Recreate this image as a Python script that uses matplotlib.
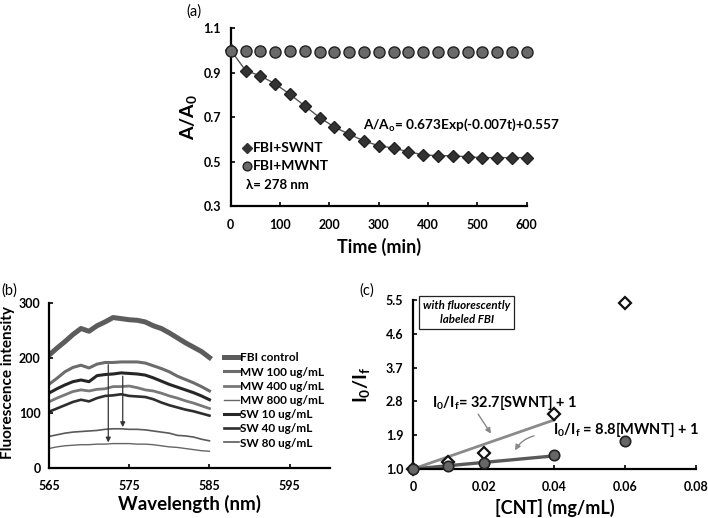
import numpy as np
import matplotlib.pyplot as plt

plt.rcParams['font.family'] = ['Lato', 'DejaVu Sans']
plt.rcParams['font.weight'] = 'bold'
plt.rcParams['mathtext.fontset'] = 'custom'
plt.rcParams['mathtext.rm'] = 'Lato:bold'
plt.rcParams['mathtext.it'] = 'Lato:bold:italic'
plt.rcParams['mathtext.bf'] = 'Lato:bold'
plt.rcParams['mathtext.default'] = 'rm'

# ---- panel (a) data
t = [0, 30, 60, 90, 120, 150, 180, 210, 240, 270, 300, 330, 360, 390, 420, 450, 480, 510, 540, 570, 600]
a_swnt = [1.0, 0.909, 0.885, 0.849, 0.802, 0.750, 0.698, 0.655, 0.623, 0.593, 0.571,
          0.561, 0.544, 0.531, 0.526, 0.527, 0.521, 0.518, 0.518, 0.518, 0.518]
a_mwnt = [0.998, 0.997, 0.997, 0.994, 0.997, 0.997, 0.993, 0.993, 0.993, 0.993, 0.993,
          0.993, 0.99, 0.99, 0.99, 0.99, 0.99, 0.99, 0.99, 0.99, 0.99]

# ---- panel (b) data
wl = list(range(565, 586))
fbi_control = [205, 218, 230, 243, 254, 249, 259, 266, 274, 272, 270, 269, 266, 259, 254, 246, 237, 228, 220, 212, 201]
mw100 = [152, 163, 175, 183, 187, 182, 189, 192, 192, 193, 193, 193, 191, 186, 181, 175, 167, 161, 155, 148, 140]
mw400 = [120, 127, 133, 139, 142, 140, 143, 144, 148, 148, 149, 146, 142, 140, 136, 131, 127, 122, 118, 113, 108]
mw800 = [35, 38, 40, 41, 42, 42, 43, 43, 44, 44, 44, 43, 43, 42, 40, 38, 37, 35, 33, 31, 30]
sw10 = [136, 144, 151, 157, 160, 157, 168, 170, 171, 173, 172, 171, 169, 164, 158, 152, 147, 142, 137, 131, 124]
sw40 = [102, 108, 114, 120, 124, 121, 127, 131, 132, 134, 131, 130, 129, 125, 119, 114, 110, 106, 103, 99, 95]
sw80 = [57, 60, 63, 65, 66, 67, 68, 70, 71, 71, 70, 70, 69, 67, 65, 63, 59, 58, 56, 52, 49]

# ---- panel (c) data
cnt = [0, 0.01, 0.02, 0.04, 0.06]
c_swnt = [1.0, 1.18, 1.43, 2.46, 5.41]
c_mwnt = [1.0, 1.09, 1.17, 1.37, 1.75]
fit_x = [0, 0.04]
fit_swnt = [1.0, 2.31]
fit_mwnt = [1.0, 1.35]

fig = plt.figure(figsize=(7.08, 5.18), dpi=100)


def style(ax):
    for s in ['top', 'right']:
        ax.spines[s].set_visible(False)
    for s in ['left', 'bottom']:
        ax.spines[s].set_linewidth(1.6)
    ax.tick_params(direction='in', length=3, width=1.2, labelsize=9)
    ax.tick_params(axis='y', pad=7)
    ax.tick_params(axis='x', pad=9)
    for lab in ax.get_xticklabels() + ax.get_yticklabels():
        lab.set_fontweight('bold')


# ================= (a)
ax1 = fig.add_axes([0.326, 0.602, 0.418, 0.344])
ax1.plot(t, a_swnt, '-', color='#555555', lw=1.0, zorder=2)
ax1.plot(t, a_swnt, 'D', ms=6.5, color='#333333', mec='#222222', ls='none', zorder=3, clip_on=False)
ax1.plot(t, a_mwnt, 'o', ms=8, color='#6a6a6a', mec='#222222', mew=1.0, ls='none', zorder=3, clip_on=False)
ax1.set_xlim(0, 600)
ax1.set_ylim(0.3, 1.1)
ax1.set_xticks(range(0, 601, 100))
ax1.set_yticks([0.3, 0.5, 0.7, 0.9, 1.1])
ax1.set_yticklabels(['0.3', '0.5', '0.7', '0.9', '1.1'])
style(ax1)
ax1.set_xlabel('Time (min)', fontsize=13, fontweight='bold', labelpad=5)
ax1.set_ylabel(r'A/A$_0$', fontsize=14, fontweight='bold', labelpad=3)
ax1.text(-0.15, 1.09, '(a)', transform=ax1.transAxes, fontsize=10.5, fontweight='normal', va='center')
ax1.text(268, 0.664, r'A/A$_o$= 0.673Exp(-0.007t)+0.557', fontsize=9.8, va='center')
ax1.plot([33], [0.561], 'D', ms=5, color='#333333')
ax1.text(44, 0.561, 'FBI+SWNT', fontsize=10, va='center')
ax1.plot([33], [0.481], 'o', ms=6.3, color='#6a6a6a', mec='#222222')
ax1.text(44, 0.481, 'FBI+MWNT', fontsize=10, va='center')
ax1.text(30, 0.394, 'λ= 278 nm', fontsize=9.5, va='center')

# ================= (b)
ax2 = fig.add_axes([0.069, 0.0971, 0.397, 0.3174])
ax2.plot(wl, fbi_control, color='#5c5c5c', lw=3.6, label='FBI control')
ax2.plot(wl, mw100, color='#6c6c6c', lw=2.2, label='MW 100 ug/mL')
ax2.plot(wl, mw400, color='#787878', lw=2.0, label='MW 400 ug/mL')
ax2.plot(wl, mw800, color='#666666', lw=1.0, label='MW 800 ug/mL')
ax2.plot(wl, sw10, color='#262626', lw=2.2, label='SW 10 ug/mL')
ax2.plot(wl, sw40, color='#2e2e2e', lw=1.9, label='SW 40 ug/mL')
ax2.plot(wl, sw80, color='#5a5a5a', lw=1.2, label='SW 80 ug/mL')
ax2.annotate('', xy=(572.4, 41), xytext=(572.4, 193),
             arrowprops=dict(arrowstyle='-|>', color='#333333', lw=0.9, mutation_scale=7))
ax2.annotate('', xy=(574.2, 69), xytext=(574.2, 172),
             arrowprops=dict(arrowstyle='-|>', color='#333333', lw=0.9, mutation_scale=7))
ax2.set_xlim(565, 600)
ax2.set_ylim(0, 300)
ax2.set_xticks([565, 575, 585, 595])
ax2.set_yticks([0, 100, 200, 300])
style(ax2)
ax2.tick_params(axis='y', pad=6)
ax2.set_xlabel('Wavelength (nm)', fontsize=13.5, fontweight='bold', labelpad=2)
ax2.set_ylabel('Fluorescence intensity', fontsize=11, fontweight='bold')
ax2.yaxis.set_label_coords(-0.122, 0.52)
ax2.text(-0.17, 1.05, '(b)', transform=ax2.transAxes, fontsize=10.5, fontweight='normal')
ax2.legend(loc='upper left', bbox_to_anchor=(0.605, 0.73), frameon=False, fontsize=8.5,
           handlelength=1.3, handletextpad=0.1, labelspacing=0.27, borderaxespad=0)

# ================= (c)
ax3 = fig.add_axes([0.5833, 0.0946, 0.3997, 0.3262])
ax3.plot(fit_x, fit_swnt, color='#8a8a8a', lw=2.0, zorder=2)
ax3.plot(fit_x, fit_mwnt, color='#5a5a5a', lw=2.4, zorder=2)
ax3.plot(cnt, c_swnt, 'D', ms=6.5, mfc='white', mec='#111111', mew=1.6, ls='none', zorder=3, clip_on=False)
ax3.plot(cnt, c_mwnt, 'o', ms=7.5, mfc='#666666', mec='#222222', mew=1.2, ls='none', zorder=3, clip_on=False)
ax3.set_xlim(0, 0.08)
ax3.set_ylim(1.0, 5.5)
ax3.set_xticks([0, 0.02, 0.04, 0.06, 0.08])
ax3.set_xticklabels(['0', '0.02', '0.04', '0.06', '0.08'])
ax3.set_yticks([1.0, 1.9, 2.8, 3.7, 4.6, 5.5])
ax3.set_yticklabels(['1.0', '1.9', '2.8', '3.7', '4.6', '5.5'])
style(ax3)
ax3.set_xlabel('[CNT] (mg/mL)', fontsize=13, fontweight='bold', labelpad=4)
ax3.set_ylabel(r'I$_0$/I$_f$', fontsize=14, fontweight='bold', labelpad=10)
ax3.text(-0.19, 1.03, '(c)', transform=ax3.transAxes, fontsize=10.5, fontweight='normal')
ax3.text(0.19, 0.925, 'with fluorescently\nlabeled FBI', transform=ax3.transAxes, fontsize=8.3,
         style='italic', fontweight='bold', ha='center', va='center', linespacing=1.3,
         bbox=dict(boxstyle='square,pad=0.35', fc='white', ec='#222222', lw=0.9))
ax3.text(0.0053, 2.78, r'I$_0$/I$_f$= 32.7[SWNT] + 1', fontsize=10.5, va='center')
ax3.text(0.0395, 2.05, r'I$_0$/I$_f$ = 8.8[MWNT] + 1', fontsize=10.5, va='center')
ax3.annotate('', xy=(0.0225, 1.88), xytext=(0.018, 2.52),
             arrowprops=dict(arrowstyle='-|>', color='#888888', lw=1.0, mutation_scale=8))
ax3.annotate('', xy=(0.0285, 1.43), xytext=(0.035, 1.9),
             arrowprops=dict(arrowstyle='-|>', color='#888888', lw=1.0, mutation_scale=8,
                             connectionstyle='arc3,rad=0.25'))

fig.savefig('out.png', dpi=100)
